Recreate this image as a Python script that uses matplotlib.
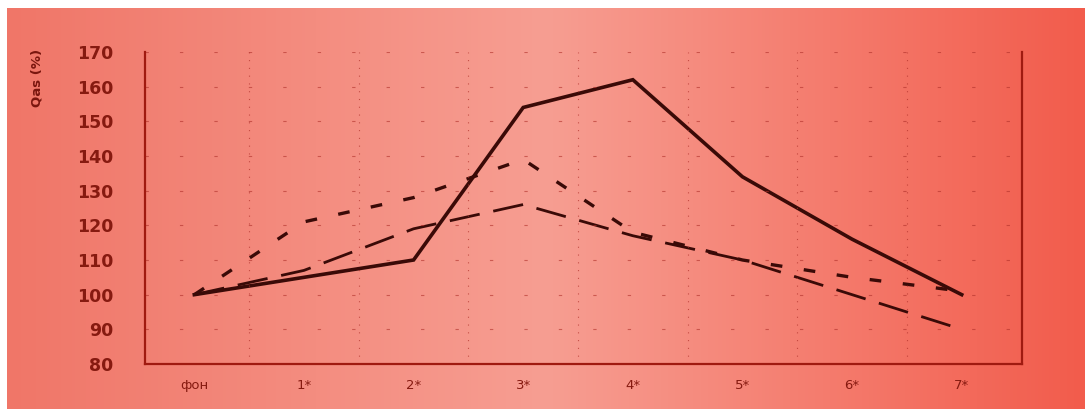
import numpy as np
import matplotlib
matplotlib.use("Agg")
import matplotlib.pyplot as plt

categories = ["фон", "1*", "2*", "3*", "4*", "5*", "6*", "7*"]
solid_vals = [100, 105, 110, 154, 162, 134, 116, 100]
short_dash_vals = [100, 121, 128, 139, 118, 110, 105, 101]
long_dash_vals = [100, 107, 119, 126, 117, 110, 100, 90]
y_ticks = [80, 90, 100, 110, 120, 130, 140, 150, 160, 170]

W, H = 1085, 409
fig = plt.figure(figsize=(W / 100, H / 100), dpi=100)
fig.patch.set_facecolor("white")

# photo-like reddish background with gradient
bg = fig.add_axes([7 / W, 0, 1 - 7 / W, 1 - 8 / H])
bg.set_axis_off()
xs = np.linspace(0, 1, 300)
left = np.array([240, 118, 104]) / 255
mid = np.array([247, 158, 146]) / 255
right = np.array([242, 92, 76]) / 255
cols = []
for t in xs:
    if t < 0.5:
        c = left + (mid - left) * (t / 0.5)
    else:
        c = mid + (right - mid) * ((t - 0.5) / 0.5)
    cols.append(c)
grad = np.array(cols)[None, :, :]
grad = np.repeat(grad, 2, axis=0)
bg.imshow(grad, aspect="auto", extent=[0, 1, 0, 1])
bg.set_xlim(0, 1)
bg.set_ylim(0, 1)

ax = fig.add_axes([145 / W, 1 - 364 / H, (1022 - 145) / W, (364 - 52) / H])
ax.patch.set_alpha(0)
x = np.arange(len(categories))
line_col = "#3a0a07"
ax.plot(x, solid_vals, color=line_col, lw=2.6, solid_joinstyle="miter")
ax.plot(x, short_dash_vals, color=line_col, lw=2.4, dashes=(3.5, 6.5))
ax.plot(x, long_dash_vals, color=line_col, lw=2.0, dashes=(11, 5))

ax.set_xlim(-0.45, 7.55)
ax.set_ylim(80, 170)
ax.set_yticks(y_ticks)
ax.set_xticks(x)
ax.set_xticklabels(categories)

txt_col = "#861a10"
for lab in ax.get_yticklabels():
    lab.set_fontweight("bold")
ax.tick_params(axis="y", length=0, pad=23, labelsize=12.5, labelcolor=txt_col)
ax.tick_params(axis="x", length=0, pad=11, labelsize=9.5, labelcolor=txt_col)

spine_col = "#a01a10"
ax.spines["top"].set_visible(False)
for s in ["left", "bottom", "right"]:
    ax.spines[s].set_color(spine_col)
    ax.spines[s].set_linewidth(1.6)

# faint dotted grid
for xv in np.arange(len(categories) - 1) + 0.5:
    ax.axvline(xv, color="#b0302a", lw=0.8, ls=(0, (1, 6)), alpha=0.7)
for yv in y_ticks[1:]:
    ax.axhline(yv, color="#b0302a", lw=0.8, ls=(0, (3, 28)), alpha=0.6)

fig.text(37 / W, 1 - 78 / H, "Qas (%)", rotation=90, ha="center", va="center",
         fontsize=9.5, fontweight="bold", color="#7a160e")

fig.savefig("out.png", dpi=100, facecolor=fig.get_facecolor())
